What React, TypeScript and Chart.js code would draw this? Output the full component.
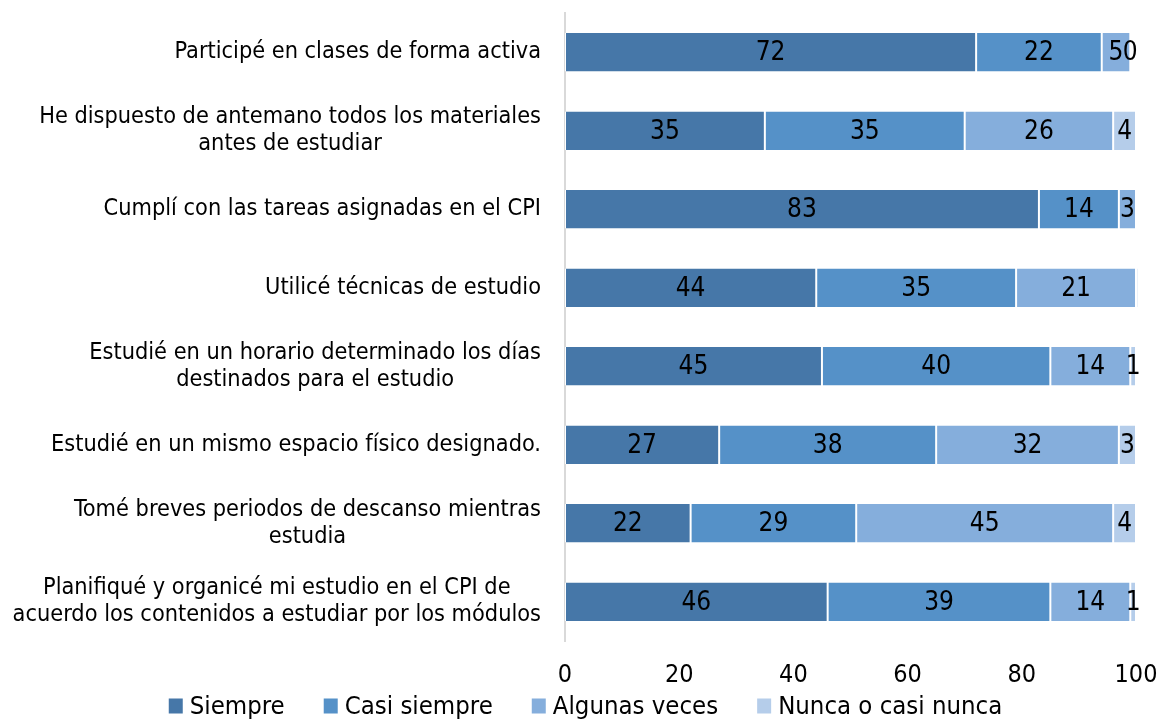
import React, { useEffect, useRef } from "react";
import { Chart, registerables } from "chart.js";

Chart.register(...registerables);

const categories: string[][] = [
  ["Participé en clases de forma activa"],
  ["He dispuesto de antemano todos los materiales", "antes de estudiar"],
  ["Cumplí con las tareas asignadas en el CPI"],
  ["Utilicé técnicas de estudio"],
  ["Estudié en un horario determinado los días", "destinados para el estudio"],
  ["Estudié en un mismo espacio físico designado."],
  ["Tomé breves periodos de descanso mientras", "estudia"],
  ["Planifiqué y organicé mi estudio en el CPI de", "acuerdo los contenidos a estudiar por los módulos"],
];

const seriesNames = ["Siempre", "Casi siempre", "Algunas veces", "Nunca o casi nunca"];
const siempre = [72, 35, 83, 44, 45, 27, 22, 46];
const casiSiempre = [22, 35, 14, 35, 40, 38, 29, 39];
const algunasVeces = [5, 26, 3, 21, 14, 32, 45, 14];
const nunca: (number | null)[] = [0, 4, null, 0.4, 1, 3, 4, 1];
const colors = ["#4677A8", "#5591C8", "#85AEDC", "#B5CDEA"];
const xTicks = [0, 20, 40, 60, 80, 100];

const FONT = "'DejaVu Sans Condensed', 'DejaVu Sans', sans-serif";

const labelPlugin = {
  id: "customLabels",
  afterDatasetsDraw(chart: any) {
    const ctx = chart.ctx;
    ctx.save();
    // data labels
    ctx.font = `26px ${FONT}`;
    ctx.fillStyle = "#000";
    ctx.textAlign = "center";
    ctx.textBaseline = "middle";
    chart.data.datasets.forEach((ds: any, di: number) => {
      const meta = chart.getDatasetMeta(di);
      meta.data.forEach((bar: any, i: number) => {
        const v = ds.data[i];
        if (v === null || v === undefined) return;
        if (v !== 0 && v < 1) return;
        const cx = (bar.x + bar.base) / 2;
        ctx.fillText(String(Math.round(v)), cx, bar.y + 1);
      });
    });
    // category labels
    const yScale = chart.scales.y;
    ctx.font = `23.3px ${FONT}`;
    const right = 541;
    const lh = 27;
    categories.forEach((lines, i) => {
      const y = yScale.getPixelForValue(i);
      const widths = lines.map((l) => ctx.measureText(l).width);
      const maxW = Math.max(...widths);
      const center = right - maxW / 2;
      lines.forEach((l, j) => {
        const ly = y + (j - (lines.length - 1) / 2) * lh;
        ctx.textAlign = "center";
        ctx.fillText(l, center, ly);
      });
    });
    // legend
    ctx.font = `25.5px ${FONT}`;
    ctx.textAlign = "left";
    const box = 14;
    const gapText = 7;
    const gapItem = 39;
    const itemWidths = seriesNames.map((n) => box + gapText + ctx.measureText(n).width);
    const total = itemWidths.reduce((a, b) => a + b, 0) + gapItem * (seriesNames.length - 1);
    let x = 585.5 - total / 2;
    const ly = 706;
    seriesNames.forEach((n, i) => {
      ctx.fillStyle = colors[i];
      ctx.fillRect(x, ly - 7.5, box, box + 1);
      ctx.fillStyle = "#000";
      ctx.fillText(n, x + box + gapText, ly + 1);
      x += itemWidths[i] + gapItem;
    });
    ctx.restore();
  },
};

export default function App() {
  const ref = useRef<HTMLCanvasElement | null>(null);
  useEffect(() => {
    document.body.style.margin = "0";
    const canvas = ref.current!;
    const chart = new Chart(canvas, {
      type: "bar",
      data: {
        labels: categories.map((c) => c.join(" ")),
        datasets: [siempre, casiSiempre, algunasVeces, nunca].map((d, i) => ({
          label: seriesNames[i],
          data: d as any,
          backgroundColor: colors[i],
          borderColor: "#ffffff",
          borderWidth: { left: 1, right: 1, top: 0, bottom: 0 } as any,
          borderSkipped: false as any,
          barPercentage: 0.49,
          categoryPercentage: 1,
          clip: i === 3 ? (false as any) : undefined,
        })),
      },
      options: {
        indexAxis: "y",
        animation: false,
        responsive: false,
        maintainAspectRatio: false,
        layout: { padding: { top: 13, right: 25, left: 0, bottom: 0 } },
        plugins: {
          legend: { display: false },
          tooltip: { enabled: false },
        },
        scales: {
          x: {
            stacked: true,
            min: 0,
            max: 100,
            grid: { display: false, drawTicks: false },
            border: { display: false },
            ticks: {
              stepSize: 20,
              font: { family: FONT, size: 25 },
              color: "#000",
              padding: 19,
              maxRotation: 0,
              callback: (v: any) => (xTicks.includes(v) ? String(v) : ""),
            },
            afterFit: (s: any) => {
              s.height = 78;
              s.paddingLeft = 0;
              s.paddingRight = 0;
            },
          },
          y: {
            stacked: true,
            grid: { display: false, drawTicks: false },
            border: { display: true, color: "#D9D9D9", width: 2 },
            ticks: { display: false },
            afterFit: (s: any) => {
              s.width = 565;
            },
          },
        },
      },
      plugins: [labelPlugin],
    });
    return () => chart.destroy();
  }, []);
  return (
    <div style={{ width: 1161, height: 719 }}>
      <canvas ref={ref} width={1161} height={719} style={{ display: "block" }} />
    </div>
  );
}
